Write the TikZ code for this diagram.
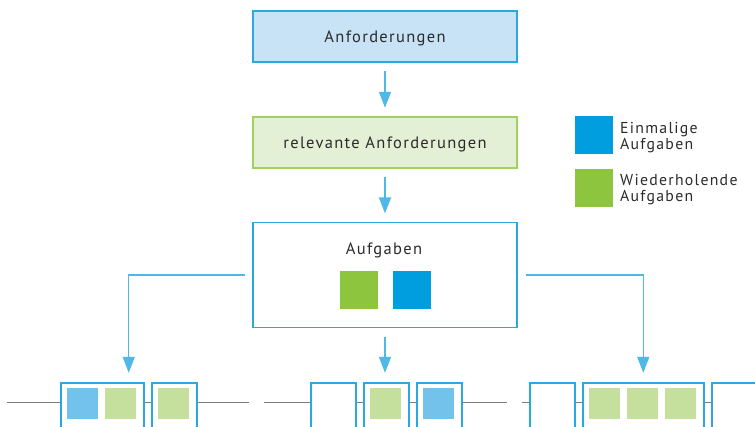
\documentclass[tikz,border=0pt]{standalone}
\usepackage{fontspec}
\setmainfont{PT Sans}[LetterSpace=8]
\usetikzlibrary{arrows.meta,fit}
\definecolor{boxblue}{HTML}{2BA8E0}
\definecolor{topfill}{HTML}{C7E3F5}
\definecolor{boxgreen}{HTML}{A2D05F}
\definecolor{greenfill}{HTML}{E4F0D5}
\definecolor{legblue}{HTML}{009DDF}
\definecolor{leggreen}{HTML}{8DC53E}
\definecolor{smallblue}{HTML}{73C2EC}
\definecolor{smallgreen}{HTML}{C5DF9C}
\definecolor{arrowblue}{HTML}{4FB8E8}
\definecolor{linegray}{HTML}{7F7F7F}
\definecolor{textgray}{HTML}{2B2B2B}
\tikzset{
  mainbox/.style={draw=boxblue, line width=1.5pt, minimum width=264pt, inner sep=0pt,
    text height=11.7pt, text depth=0pt, font=\fontsize{16.5}{19}\selectfont, text=textgray},
  arr/.style={draw=arrowblue, line width=1.3pt, -{Triangle[length=16pt,width=12pt]}},
  slot/.style={draw=boxblue, line width=1.5pt, fill=white, minimum height=46pt, inner sep=0pt, anchor=north west},
  sq/.style={minimum width=31pt, minimum height=31pt, inner sep=0pt, anchor=north west},
  bigsq/.style={minimum width=38pt, minimum height=38pt, inner sep=0pt, anchor=north west},
  legtext/.style={font=\fontsize{15.8}{16}\selectfont, text=textgray, align=left, anchor=base west, inner sep=0pt},
  track/.style={draw=linegray, line width=1.5pt}
}
\begin{document}
\begin{tikzpicture}[x=1pt,y=-1pt]
\useasboundingbox (0,0) rectangle (755,426);
\clip (0,0) rectangle (755,426);
% main chain
\node[mainbox, fill=topfill, minimum height=51pt] (anf) at (385,36.5) {Anforderungen};
\node[mainbox, fill=greenfill, draw=boxgreen, minimum height=51pt] (rel) at (385,142.5) {relevante Anforderungen};
\node[mainbox, fill=white, minimum height=104.6pt] (aufg) at (385,275) {};
\node[font=\fontsize{16.5}{19}\selectfont, text=textgray, anchor=base, inner sep=0pt] (aufgtxt) at (384,254) {Aufgaben};
\node[bigsq, fill=leggreen] (ag) at (340,271) {};
\node[bigsq, fill=legblue] (ab) at (393,271) {};
\draw[arr, shorten <=8pt, shorten >=8.5pt] (anf) -- (rel);
\draw[arr, shorten <=8.5pt, shorten >=8.5pt] (rel) -- (aufg);
% legend
\node[bigsq, fill=legblue] (lb) at (575,116) {};
\node[bigsq, fill=leggreen] (lg) at (575,169) {};
\node[legtext] (lbt) at (620,149.3) {Einmalige\\Aufgaben};
\node[legtext] (lgt) at (620,201.5) {Wiederholende\\Aufgaben};
% row 1
\coordinate (r1s) at (7,402.7);
\coordinate (r1e) at (249,402.7);
\draw[track] (r1s) -- (r1e);
\node[slot, minimum width=83pt] (r1a) at (60,382) {};
\node[slot, minimum width=45pt] (r1b) at (151,382) {};
\node[sq, fill=smallblue] at (67,388) {};
\node[sq, fill=smallgreen] at (105,388) {};
\node[sq, fill=smallgreen] at (158,388) {};
\node[fit=(r1a)(r1b), inner sep=0pt] (row1) {};
% row 2
\coordinate (r2s) at (264,402.7);
\coordinate (r2e) at (507,402.7);
\draw[track] (r2s) -- (r2e);
\node[slot, minimum width=45pt] (r2a) at (310,382) {};
\node[slot, minimum width=45pt] (r2b) at (363,382) {};
\node[slot, minimum width=45pt] (r2c) at (416,382) {};
\node[sq, fill=smallgreen] at (370,388) {};
\node[sq, fill=smallblue] at (423,388) {};
\node[fit=(r2a)(r2c), inner sep=0pt] (row2) {};
% row 3
\coordinate (r3s) at (522,402.7);
\coordinate (r3e) at (760,402.7);
\draw[track] (r3s) -- (r3e);
\node[slot, minimum width=45pt] (r3a) at (529,382) {};
\node[slot, minimum width=121pt] (r3b) at (582,382) {};
\node[slot, minimum width=45pt] (r3c) at (711,382) {};
\node[sq, fill=smallgreen] at (589,388) {};
\node[sq, fill=smallgreen] at (627,388) {};
\node[sq, fill=smallgreen] at (665,388) {};
\node[fit=(r3a)(r3c), inner sep=0pt] (row3) {};
% branches
\draw[arr, shorten <=7.5pt, shorten >=9pt] (aufg.west) -| (row1.north);
\draw[arr, shorten <=8.5pt, shorten >=9pt] (aufg.south) -- (aufg.south |- row2.north);
\draw[arr, shorten <=8pt, shorten >=9pt] (aufg.east) -| (row3.north);
\end{tikzpicture}
\end{document}
